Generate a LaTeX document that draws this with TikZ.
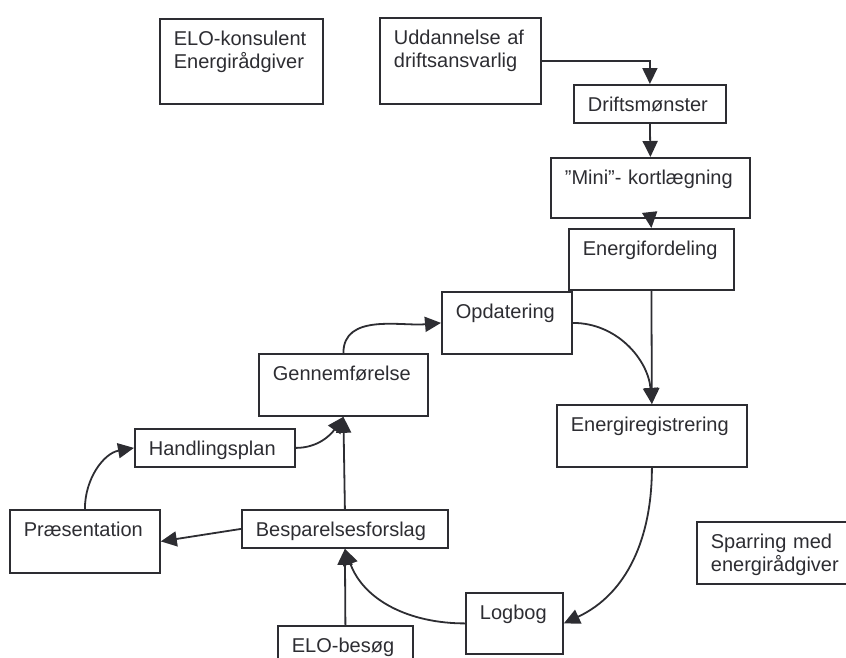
\documentclass[tikz,border=0pt]{standalone}
\usepackage{fontspec}
\setmainfont{Liberation Sans}
\usetikzlibrary{arrows.meta}
\definecolor{mork}{RGB}{45,45,50}
\tikzset{
	blok/.style={draw=mork, line width=1.8pt, text=mork, anchor=north west, align=left,
		inner xsep=14pt, inner ysep=0pt, text height=27pt, font=\fontsize{20}{23}\selectfont},
	pil/.style={draw=mork, line width=1.8pt, -{Triangle[length=16pt, width=15pt]}}
}
\begin{document}
\begin{tikzpicture}[x=1pt, y=1pt]
		\useasboundingbox	(0, 0) rectangle (846, -657);

		\node [blok, text width=135pt, text depth=58pt]	(elo) at (159, -18) {ELO-konsulent\\Energirådgiver};
		\node [blok, text width=133pt, text depth=59pt]	(udd) at (379, -17) {Uddannelse~af\\driftsansvarlig};
		\node [blok, text width=124pt, text depth=11pt]	(drift) at (573, -84) {Driftsmønster};
		\node [blok, text width=171pt, text depth=33pt]	(mini) at (550, -157) {”Mini”-~kortlægning};
		\node [blok, text width=137pt, text depth=34pt]	(efor) at (568, -228) {Energifordeling};
		\node [blok, text width=102pt, text depth=35pt]	(opd) at (441, -291) {Opdatering};
		\node [blok, text width=162pt, text depth=35pt]	(ereg) at (556, -404) {Energiregistrering};
		\node [blok, text width=141pt, text depth=35pt]	(genn) at (258, -353) {Gennemførelse};
		\node [blok, text width=132pt, text depth=11pt]	(hand) at (134, -428) {Handlingsplan};
		\node [blok, text width=122pt, text depth=36pt]	(pres) at (9, -509) {Præsentation};
		\node [blok, text width=178pt, text depth=11pt]	(besp) at (241, -509) {Besparelsesforslag};
		\node [blok, text width=69pt, text depth=34pt]	(log) at (465, -592) {Logbog};
		\node [blok, text width=107pt, text depth=13pt]	(besog) at (277, -625) {ELO-besøg};
		\node [blok, text width=132pt, text depth=35pt]	(spar) at (696, -521) {Sparring~med\\energirådgiver};

		\draw [pil]	(udd.east) -| (drift.north);
		\draw [pil]	(drift.south) -- (mini.north);
		\draw [pil]	(mini.south) -- (efor.north);
		\draw [pil]	(efor.south) -- (ereg.north);
		\draw [pil]	(opd.east) to[out=0, in=95] (ereg.north);
		\draw [pil]	(ereg.south) to[out=-90, in=25] (log.east);
		\draw [pil]	(log.west) to[out=180, in=-70] (besp.south);
		\draw [pil]	(besog.north) -- (besp.south);
		\draw [pil]	(besp.west) -- (pres.east);
		\draw [pil]	(pres.north) to[out=90, in=190] (hand.west);
		\draw [pil]	(hand.east) to[out=0, in=-125] (genn.south);
		\draw [pil]	(besp.north) -- (genn.south);
		\draw [pil]	(genn.north) to[out=90, in=185] (opd.west);
\end{tikzpicture}
\end{document}
